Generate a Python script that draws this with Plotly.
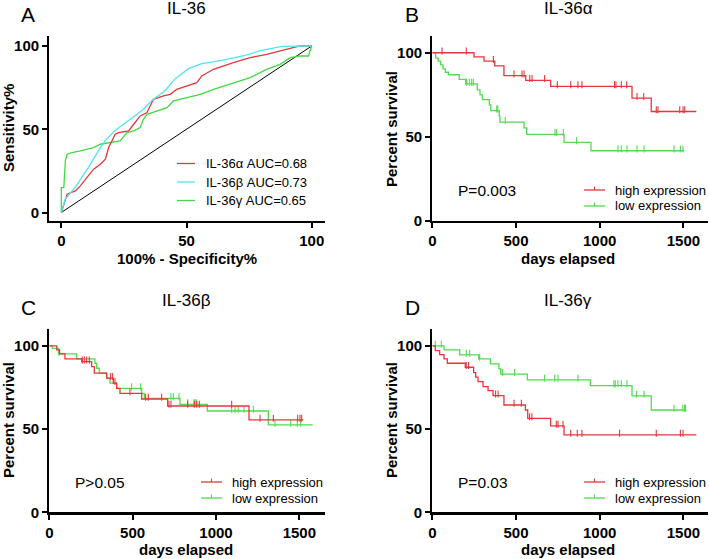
import plotly.graph_objects as go

# ---------------- DATA ----------------
# Panel A: ROC curves (100% - Specificity%, Sensitivity%)
roc_alpha_x = [0, 1.0, 1.6, 2.3, 5.6, 7.6, 10.2, 12.9, 15.6, 17.6, 18.9, 21.5, 22.9, 26.9, 28.9, 31.5, 34.2, 36.8, 40.8, 43.5, 46.1, 50.1, 54.1, 56.1, 60.8, 68.7, 75.4, 82.0, 90.0, 95.3, 100]
roc_alpha_y = [0, 5, 9, 11, 13, 16, 21, 26, 29, 32, 39, 47, 48, 49, 53, 58, 60, 68, 70, 71, 74, 76, 78, 82, 86, 90, 93, 95, 98, 100, 100]
roc_beta_x = [0, 1.6, 5.6, 10.9, 14.9, 17.6, 21.5, 26.9, 32.2, 36.2, 41.5, 45.5, 50.8, 56.1, 64.1, 73.4, 80.1, 88.0, 100]
roc_beta_y = [0, 8.2, 15.2, 27.3, 37.3, 43.3, 49.3, 55.3, 61.3, 67.3, 73.3, 80.4, 86.4, 89.4, 91.4, 94.4, 97.4, 99.8, 100]
roc_gamma_x = [0, 0, 1.0, 1.6, 2.3, 4.3, 7.6, 12.9, 15.6, 19.6, 23.5, 26.2, 28.9, 31.5, 32.8, 34.2, 38.2, 42.2, 44.8, 50.1, 55.5, 60.8, 68.7, 75.4, 82.0, 87.4, 91.4, 95.3, 98.7, 99.3, 100]
roc_gamma_y = [0, 15, 15, 31, 35, 36, 37, 39, 41, 42, 43, 48, 49, 51, 56, 59, 61, 63, 67, 69, 71, 74, 78, 81, 86, 89, 93, 94, 94, 97, 100]
roc_ref = [0, 100]
roc_labels = ["IL-36\u03b1 AUC=0.68", "IL-36\u03b2 AUC=0.73", "IL-36\u03b3 AUC=0.65"]

# Panel B: IL-36alpha survival
b_high_t = [0, 249, 309, 373, 428, 558, 707, 1193, 1308]
b_high_s = [100, 97.6, 95.0, 92.2, 86.4, 83.6, 80.0, 73.0, 65.0]
b_high_end = 1577
b_high_cens = [58, 203, 365, 488, 536, 548, 582, 596, 671, 747, 827, 870, 894, 1089, 1097, 1129, 1161, 1223, 1263, 1338, 1348, 1478, 1498, 1508]
b_low_t = [0, 20, 35, 50, 64, 78, 96, 161, 199, 269, 285, 299, 341, 349, 400, 404, 548, 564, 787, 948]
b_low_s = [100, 96.8, 95.0, 92.8, 90.4, 88.4, 86.9, 84.1, 81.5, 77.9, 74.9, 72.1, 68.9, 65.5, 62.2, 58.6, 55.2, 51.4, 46.6, 41.6]
b_low_end = 1504
b_low_cens = [205, 221, 235, 245, 385, 391, 436, 733, 743, 783, 862, 1109, 1129, 1163, 1223, 1265, 1444, 1482, 1498]

# Panel C: IL-36beta survival
c_high_t = [0, 45, 62, 94, 194, 254, 270, 344, 384, 404, 424, 554, 710, 1198]
c_high_s = [100, 97.6, 95.2, 92.2, 90.6, 87.6, 83.6, 80.6, 77.6, 74.5, 71.5, 68.1, 63.9, 55.5]
c_high_end = 1524
c_high_cens = [198, 210, 224, 240, 368, 380, 394, 484, 578, 594, 674, 718, 730, 830, 870, 884, 900, 1094, 1264, 1344, 1490, 1504, 1514]
c_low_t = [0, 18, 54, 164, 274, 284, 300, 344, 364, 404, 554, 570, 784, 948, 1314]
c_low_s = [100, 98.5, 95.2, 92.2, 89.6, 86.6, 83.6, 80.6, 77.6, 74.5, 71.5, 68.5, 64.9, 60.9, 52.6]
c_low_end = 1580
c_low_cens = [58, 494, 548, 730, 744, 778, 830, 868, 874, 884, 1094, 1114, 1134, 1168, 1224, 1354, 1448, 1488, 1508]

# Panel D: IL-36gamma survival
d_high_t = [0, 18, 44, 70, 90, 197, 247, 259, 273, 303, 333, 363, 428, 556, 570, 707, 787]
d_high_s = [100, 97.2, 94.8, 92.2, 89.6, 87.2, 84.0, 81.2, 78.6, 75.6, 73.1, 70.1, 64.5, 61.5, 56.5, 51.9, 46.5]
d_high_end = 1577
d_high_cens = [203, 217, 378, 393, 488, 532, 581, 595, 741, 751, 781, 827, 866, 894, 1119, 1338, 1482, 1498]
d_low_t = [0, 70, 164, 277, 347, 398, 408, 568, 944, 1193, 1308]
d_low_s = [100, 97.6, 94.6, 92.2, 89.2, 86.2, 83.0, 79.6, 76.2, 70.0, 61.5]
d_low_end = 1517
d_low_cens = [18, 54, 203, 223, 283, 420, 492, 671, 731, 751, 870, 1085, 1093, 1109, 1129, 1163, 1219, 1265, 1444, 1497, 1507, 1513]

km_titles = ["IL-36\u03b1", "IL-36\u03b2", "IL-36\u03b3"]
p_values = ["P=0.003", "P>0.05", "P=0.03"]
group_labels = ["high expression", "low expression"]
surv_ticks = [0, 50, 100]
day_ticks = [0, 500, 1000, 1500]
roc_ticks = [0, 50, 100]

# ---------------- STYLE ----------------
W, H = 709, 559
RED = "#e5373c"
CYAN = "#4fe6f0"
GREEN = "#45d745"
KGREEN = "#4fdc4f"
FONT = "Liberation Sans, Arial, sans-serif"


def X(px):
    return px / W


def Y(py):
    return 1 - py / H


def surv_at(ts, ss, t):
    v = ss[0]
    for ti, si in zip(ts, ss):
        if ti <= t:
            v = si
    return v


fig = go.Figure()

# Panel A
fig.add_trace(go.Scatter(x=roc_ref, y=roc_ref, mode="lines", line=dict(color="black", width=1), xaxis="x", yaxis="y", showlegend=False))
fig.add_trace(go.Scatter(x=roc_gamma_x, y=roc_gamma_y, mode="lines", line=dict(color=GREEN, width=1.3), xaxis="x", yaxis="y", showlegend=False))
fig.add_trace(go.Scatter(x=roc_alpha_x, y=roc_alpha_y, mode="lines", line=dict(color=RED, width=1.3), xaxis="x", yaxis="y", showlegend=False))
fig.add_trace(go.Scatter(x=roc_beta_x, y=roc_beta_y, mode="lines", line=dict(color=CYAN, width=1.3), xaxis="x", yaxis="y", showlegend=False))

panels = [
    ("x2", "y2", b_high_t, b_high_s, b_high_end, b_high_cens, b_low_t, b_low_s, b_low_end, b_low_cens),
    ("x3", "y3", c_high_t, c_high_s, c_high_end, c_high_cens, c_low_t, c_low_s, c_low_end, c_low_cens),
    ("x4", "y4", d_high_t, d_high_s, d_high_end, d_high_cens, d_low_t, d_low_s, d_low_end, d_low_cens),
]
for xa, ya, ht, hs, he, hc, lt, ls, le, lc in panels:
    for ts, ss, end, cens, col in [(lt, ls, le, lc, KGREEN), (ht, hs, he, hc, RED)]:
        fig.add_trace(go.Scatter(x=ts + [end], y=ss + [ss[-1]], mode="lines", line=dict(color=col, width=1.3, shape="hv"),
                                 xaxis=xa, yaxis=ya, showlegend=False))
        fig.add_trace(go.Scatter(x=cens, y=[surv_at(ts, ss, t) + 1.0 for t in cens], mode="markers",
                                 marker=dict(symbol="line-ns", size=5, line=dict(color=col, width=1.1)),
                                 xaxis=xa, yaxis=ya, showlegend=False, cliponaxis=False))

axis_common = dict(showline=True, linewidth=2.2, linecolor="black", ticks="outside", ticklen=5, tickwidth=2,
                   tickcolor="black", showgrid=False, zeroline=False,
                   tickfont=dict(family=FONT, size=15, color="black", weight="bold"))

top_dom = [Y(220.5), Y(36)]
bot_dom = [Y(512.3), Y(329.3)]
left_dom = [X(49.3), X(325)]
right_dom = [X(432.3), X(708)]

fig.update_layout(
    width=W, autosize=True, margin=dict(l=0, r=0, t=0, b=0, autoexpand=False),
    plot_bgcolor="white", paper_bgcolor="white", showlegend=False,
    xaxis=dict(domain=left_dom, range=[-4.8, 105.3], tickvals=roc_ticks, anchor="y", **axis_common),
    yaxis=dict(domain=top_dom, range=[-4.8, 106], tickvals=roc_ticks, anchor="x", **axis_common),
    xaxis2=dict(domain=right_dom, range=[0, 1647], tickvals=day_ticks, anchor="y2", **axis_common),
    yaxis2=dict(domain=top_dom, range=[0, 110], tickvals=surv_ticks, anchor="x2", **axis_common),
    xaxis3=dict(domain=left_dom, range=[0, 1654], tickvals=day_ticks, anchor="y3", **axis_common),
    yaxis3=dict(domain=bot_dom, range=[0, 110], tickvals=surv_ticks, anchor="x3", **axis_common),
    xaxis4=dict(domain=right_dom, range=[0, 1647], tickvals=day_ticks, anchor="y4", **axis_common),
    yaxis4=dict(domain=bot_dom, range=[0, 110], tickvals=surv_ticks, anchor="x4", **axis_common),
)

ann = []
shapes = []


def text(t, px, py, size, bold=False, angle=0, xanchor="center"):
    ann.append(dict(text=t, x=X(px), y=Y(py), xref="paper", yref="paper", showarrow=False,
                    xanchor=xanchor, yanchor="middle", textangle=angle, borderpad=0,
                    font=dict(family=FONT, size=size, color="black", weight="bold" if bold else "normal")))


# Panel letters & titles
text("A", 28, 15, 21)
text("B", 412, 15, 21)
text("C", 28, 308, 21)
text("D", 412, 308, 21)
text("IL-36", 187, 9, 17)
text(km_titles[0], 568, 9, 17)
text(km_titles[1], 186, 300, 17)
text(km_titles[2], 568, 300, 17)

# Axis titles
text("100% - Specificity%", 187, 258, 15, bold=True)
text("Sensitivity%", 9, 128, 15, bold=True, angle=-90)
text("days elapsed", 568, 258, 15, bold=True)
text("Percent survival", 391, 129, 15, bold=True, angle=-90)
text("days elapsed", 186, 549, 15, bold=True)
text("Percent survival", 8, 420, 15, bold=True, angle=-90)
text("days elapsed", 568, 549, 15, bold=True)
text("Percent survival", 391, 420, 15, bold=True, angle=-90)

# P values
text(p_values[0], 487, 190, 15.5)
text(p_values[1], 100, 482, 15.5)
text(p_values[2], 483, 482, 15.5)

# Legend A
for i, (lab, col) in enumerate(zip(roc_labels, [RED, CYAN, GREEN])):
    py = 163.5 + i * 18.5
    shapes.append(dict(type="line", xref="paper", yref="paper", x0=X(177), x1=X(195), y0=Y(py), y1=Y(py),
                       line=dict(color=col, width=1.3)))
    text(lab, 205, py, 13, xanchor="left")

# KM legends
for lx0, ly0 in [(584, 190), (201, 482), (584, 482)]:
    for i, (lab, col) in enumerate(zip(group_labels, [RED, KGREEN])):
        py = ly0 + i * 16
        shapes.append(dict(type="line", xref="paper", yref="paper", x0=X(lx0), x1=X(lx0 + 21), y0=Y(py), y1=Y(py),
                           line=dict(color=col, width=1.3)))
        shapes.append(dict(type="line", xref="paper", yref="paper", x0=X(lx0 + 10.5), x1=X(lx0 + 10.5), y0=Y(py), y1=Y(py - 3.5),
                           line=dict(color=col, width=1.1)))
        text(lab, lx0 + 30, py, 13, xanchor="left")

fig.update_layout(annotations=ann, shapes=shapes)
fig.write_html(
    "out.html",
    config={"displayModeBar": False, "staticPlot": True, "responsive": True},
    default_height="100vh",
    post_script=(
        "var gd=document.getElementById('{plot_id}');"
        "gd.style.position='fixed';gd.style.top='0px';gd.style.left='0px';"
        "document.documentElement.style.margin='0';document.documentElement.style.overflow='hidden';"
        "document.body.style.margin='0';document.body.style.padding='0';document.body.style.overflow='hidden';"
    ),
)
